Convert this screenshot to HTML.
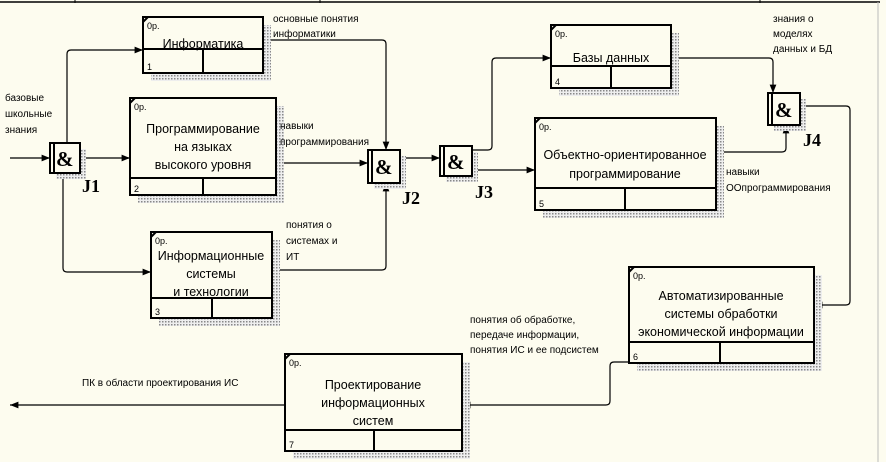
<!DOCTYPE html>
<html><head><meta charset="utf-8"><style>
body{margin:0;background:#fff}
svg{display:block}
text{font-family:"Liberation Sans",sans-serif;fill:#000}
.s text{font-size:10px}
.m text{font-size:12.5px}
.n text{font-size:9px}
.j text{font-family:"Liberation Serif",serif;font-weight:bold;font-size:18px}
.a text{font-family:"Liberation Serif",serif;font-weight:bold;font-size:21px}
</style></head><body>
<svg width="886" height="474" viewBox="0 0 886 474" xmlns="http://www.w3.org/2000/svg">
<defs>
<pattern id="h" width="3" height="3" patternUnits="userSpaceOnUse">
<rect width="3" height="3" fill="#eee"/><rect width="1.5" height="1.5" fill="#888"/>
</pattern>
<marker id="ar" viewBox="0 0 10 10" refX="10" refY="5" markerWidth="7" markerHeight="7" orient="auto"><path d="M0,1 L10,5 L0,9z" fill="#000"/></marker>
</defs>
<rect width="886" height="462" fill="#fdfcef"/>
<line x1="0" y1="2" x2="880" y2="2" stroke="#000" stroke-width="1.5"/>
<line x1="75" y1="0" x2="75" y2="3" stroke="#000"/>
<line x1="320" y1="0" x2="320" y2="3" stroke="#000"/>
<line x1="760" y1="0" x2="760" y2="3" stroke="#000"/>
<line x1="878" y1="2" x2="878" y2="462" stroke="#bbb"/>

<g fill="none" stroke="#000" stroke-width="1.2">
<path d="M10,158 H50" marker-end="url(#ar)"/>
<path d="M67,143 V54 Q67,50 71,50 H143" marker-end="url(#ar)"/>
<path d="M80,158 H130" marker-end="url(#ar)"/>
<path d="M63,173 V268 Q63,272 67,272 H151" marker-end="url(#ar)"/>
<path d="M263,40 H382 Q386,40 386,44 V150" marker-end="url(#ar)"/>
<path d="M276,163 H368" marker-end="url(#ar)"/>
<path d="M272,270 H382 Q386,270 386,266 V183" marker-end="url(#ar)"/>
<path d="M400,158 H440" marker-end="url(#ar)"/>
<path d="M472,150 H488 Q492,150 492,146 V62 Q492,58 496,58 H551" marker-end="url(#ar)"/>
<path d="M472,170 H535" marker-end="url(#ar)"/>
<path d="M671,58 H769 Q773,58 773,62 V93" marker-end="url(#ar)"/>
<path d="M716,152 H782 Q786,152 786,148 V125" marker-end="url(#ar)"/>
<path d="M800,106 H846 Q850,106 850,110 V301 Q850,305 846,305 H814" marker-end="url(#ar)"/>
<path d="M629,362 H614 Q610,362 610,366 V401 Q610,405 606,405 H462" marker-end="url(#ar)"/>
<path d="M285,405 H10" marker-end="url(#ar)"/>
</g>

<g stroke="#000" stroke-width="2" fill="#fdfcef">
<rect x="151" y="25" width="120" height="56" fill="url(#h)" stroke="none"/>
<rect x="143" y="17" width="120" height="56"/>
<rect x="138" y="106" width="146" height="97" fill="url(#h)" stroke="none"/>
<rect x="130" y="98" width="146" height="97"/>
<rect x="159" y="240" width="121" height="86" fill="url(#h)" stroke="none"/>
<rect x="151" y="232" width="121" height="86"/>
<rect x="559" y="33" width="120" height="63" fill="url(#h)" stroke="none"/>
<rect x="551" y="25" width="120" height="63"/>
<rect x="543" y="126" width="181" height="92" fill="url(#h)" stroke="none"/>
<rect x="535" y="118" width="181" height="92"/>
<rect x="637" y="275" width="185" height="96" fill="url(#h)" stroke="none"/>
<rect x="629" y="267" width="185" height="96"/>
<rect x="293" y="362" width="177" height="97" fill="url(#h)" stroke="none"/>
<rect x="285" y="354" width="177" height="97"/>
<rect x="56" y="149" width="30" height="30" fill="url(#h)" stroke="none"/>
<rect x="50" y="143" width="30" height="30"/>
<rect x="374" y="156" width="32" height="33" fill="url(#h)" stroke="none"/>
<rect x="368" y="150" width="32" height="33"/>
<rect x="446" y="152" width="32" height="30" fill="url(#h)" stroke="none"/>
<rect x="440" y="146" width="32" height="30"/>
<rect x="774" y="99" width="32" height="32" fill="url(#h)" stroke="none"/>
<rect x="768" y="93" width="32" height="32"/>
</g>
<g stroke="#000" stroke-width="2" fill="none">
<path d="M143,49 H263 M203,49 V73"/>
<path d="M130,178 H276 M203,178 V195"/>
<path d="M151,298 H272 M212,298 V318"/>
<path d="M551,66 H671 M611,66 V88"/>
<path d="M535,188 H716 M625,188 V210"/>
<path d="M629,342 H814 M720,342 V363"/>
<path d="M285,430 H462 M374,430 V451"/>
<path d="M54,143 V173 M372,150 V183 M444,146 V176 M772,93 V125"/>
<path d="M143,22 L148,17 M130,103 L135,98 M151,237 L156,232 M551,30 L556,25 M535,123 L540,118 M629,272 L634,267 M285,359 L290,354"/>
</g>
<g class="a"><text x="56" y="166">&amp;</text><text x="375" y="174">&amp;</text><text x="447" y="169">&amp;</text><text x="775" y="117">&amp;</text></g>
<g class="j"><text x="82" y="192">J1</text><text x="402" y="204">J2</text><text x="475" y="198">J3</text><text x="803" y="146">J4</text></g>

<g class="n">
<text x="147" y="29">0p.</text><text x="147" y="70">1</text>
<text x="134" y="110">0p.</text><text x="134" y="192">2</text>
<text x="155" y="244">0p.</text><text x="155" y="315">3</text>
<text x="555" y="37">0p.</text><text x="555" y="85">4</text>
<text x="539" y="130">0p.</text><text x="539" y="207">5</text>
<text x="633" y="279">0p.</text><text x="633" y="360">6</text>
<text x="289" y="366">0p.</text><text x="289" y="448">7</text>
</g>
<g class="m" text-anchor="middle">
<text x="203" y="48">Информатика</text>
<text x="203" y="133">Программирование</text><text x="203" y="151">на языках</text><text x="203" y="169">высокого уровня</text>
<text x="211" y="260">Информационные</text><text x="211" y="278">системы</text><text x="211" y="296">и технологии</text>
<text x="611" y="62">Базы данных</text>
<text x="625" y="159">Объектно-ориентированное</text><text x="625" y="178">программирование</text>
<text x="721" y="300">Автоматизированные</text><text x="721" y="318">системы обработки</text><text x="721" y="336">экономической информации</text>
<text x="373" y="389">Проектирование</text><text x="373" y="407">информационных</text><text x="373" y="425">систем</text>
</g>
<g class="s">
<text x="5" y="101">базовые</text><text x="5" y="117">школьные</text><text x="5" y="133">знания</text>
<text x="273" y="22">основные понятия</text><text x="273" y="37">информатики</text>
<text x="280" y="129">навыки</text><text x="280" y="145">программирования</text>
<text x="286" y="228">понятия о</text><text x="286" y="244">системах и</text><text x="286" y="260">ИТ</text>
<text x="773" y="22">знания о</text><text x="773" y="37">моделях</text><text x="773" y="52">данных и БД</text>
<text x="726" y="175">навыки</text><text x="726" y="191">ООпрограммирования</text>
<text x="470" y="323">понятия об обработке,</text><text x="470" y="338">передаче информации,</text><text x="470" y="353">понятия ИС и ее подсистем</text>
<text x="82" y="386">ПК в области проектирования ИС</text>
</g>
</svg>
</body></html>
